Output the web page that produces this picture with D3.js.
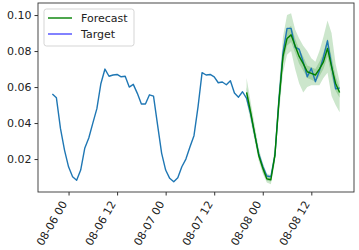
<!DOCTYPE html>
<html>
<head>
<meta charset="utf-8">
<script src="https://cdn.jsdelivr.net/npm/d3@7"></script>
<style>
  body { margin: 0; background: #fff; }
  svg { display: block; font-family: "DejaVu Sans", sans-serif; }
</style>
</head>
<body>
<script>
// hourly target series, first point 08-05 20:00
var targetStart = "2020-08-05T20:00:00Z";
var target = [
    0.0561, 0.054, 0.037, 0.025, 0.0157, 0.0102, 0.0082, 0.0139, 0.026, 0.0317,
    0.040, 0.048, 0.062, 0.070, 0.066, 0.0667, 0.067, 0.0657, 0.066, 0.060,
    0.0615, 0.0565, 0.0506, 0.0506, 0.0557, 0.055, 0.039, 0.0233, 0.0139, 0.0093,
    0.0074, 0.0096, 0.0157, 0.020, 0.0267, 0.033, 0.049, 0.068, 0.0667, 0.067,
    0.0657, 0.0624, 0.0628, 0.0613, 0.0635, 0.0567, 0.0544, 0.0574, 0.0537, 0.045,
    0.0337, 0.023, 0.016, 0.0106, 0.0102, 0.022, 0.053, 0.079, 0.0926, 0.0926,
    0.082, 0.081, 0.074, 0.0657, 0.0704, 0.063, 0.069, 0.0767, 0.0857, 0.072,
    0.059, 0.0595
];

// forecast, first point 08-07 20:00
var forecastStart = "2020-08-07T20:00:00Z";
var median = [0.057, 0.046, 0.034, 0.022, 0.015, 0.009, 0.0085, 0.022, 0.052, 0.077,
    0.087, 0.089, 0.083, 0.077, 0.073, 0.0685, 0.0676, 0.0667, 0.070, 0.074,
    0.0815, 0.0713, 0.062, 0.057];
var lower90 = [0.052, 0.041, 0.030, 0.019, 0.012, 0.007, 0.006, 0.018, 0.045, 0.068,
    0.078, 0.080, 0.070, 0.062, 0.057, 0.060, 0.061, 0.061, 0.061, 0.065,
    0.068, 0.055, 0.050, 0.046];
var upper90 = [0.065, 0.052, 0.039, 0.026, 0.018, 0.012, 0.011, 0.027, 0.060, 0.088,
    0.100, 0.101, 0.092, 0.087, 0.083, 0.080, 0.076, 0.074, 0.080, 0.088,
    0.097, 0.090, 0.073, 0.063];
var lower50 = [0.055, 0.044, 0.032, 0.021, 0.013, 0.008, 0.0075, 0.020, 0.049, 0.073,
    0.083, 0.085, 0.079, 0.073, 0.069, 0.065, 0.064, 0.063, 0.066, 0.070,
    0.077, 0.066, 0.058, 0.054];
var upper50 = [0.060, 0.049, 0.036, 0.024, 0.016, 0.010, 0.0095, 0.024, 0.056, 0.081,
    0.092, 0.094, 0.087, 0.081, 0.077, 0.072, 0.071, 0.070, 0.074, 0.079,
    0.087, 0.077, 0.066, 0.060];

var tickTimes = ["2020-08-06T00:00:00Z", "2020-08-06T12:00:00Z", "2020-08-07T00:00:00Z",
    "2020-08-07T12:00:00Z", "2020-08-08T00:00:00Z", "2020-08-08T12:00:00Z"];
var yTicks = [0.02, 0.04, 0.06, 0.08, 0.10];
var legendItems = [
    { name: "Forecast", color: "green" },
    { name: "Target", color: "#4d4dff" }
];

var W = 359, H = 250;
var margin = { top: 3, right: 5, bottom: 58, left: 38 };
var width = W - margin.left - margin.right,
    height = H - margin.top - margin.bottom;

var HOUR = 3600 * 1000;
function series(start, vals) {
    var t0 = new Date(start).getTime();
    return vals.map(function (v, i) { return { t: new Date(t0 + i * HOUR), v: v }; });
}
var targetData = series(targetStart, target);
var t0 = new Date(forecastStart).getTime();
var fcData = median.map(function (v, i) {
    return { t: new Date(t0 + i * HOUR), m: v, lo90: lower90[i], hi90: upper90[i], lo50: lower50[i], hi50: upper50[i] };
});

// 5% padding like matplotlib
var first = targetData[0].t.getTime(), last = targetData[targetData.length - 1].t.getTime();
var pad = (last - first) * 0.05;
var xScale = d3.scaleUtc()
    .domain([new Date(first - pad), new Date(last + pad)])
    .range([0, width]);
var yScale = d3.scaleLinear()
    .domain([0.0017, 0.1067])
    .range([height, 0]);

var svg = d3.select("body").append("svg")
    .attr("width", W)
    .attr("height", H)
    .append("g")
    .attr("transform", "translate(" + margin.left + "," + margin.top + ")");

// forecast bands
var area90 = d3.area()
    .x(function (d) { return xScale(d.t); })
    .y0(function (d) { return yScale(d.lo90); })
    .y1(function (d) { return yScale(d.hi90); });
var area50 = d3.area()
    .x(function (d) { return xScale(d.t); })
    .y0(function (d) { return yScale(d.lo50); })
    .y1(function (d) { return yScale(d.hi50); });
svg.append("path").datum(fcData).attr("d", area90)
    .attr("fill", "green").attr("fill-opacity", 0.2);
svg.append("path").datum(fcData).attr("d", area50)
    .attr("fill", "green").attr("fill-opacity", 0.2);

// target line
var line = d3.line()
    .x(function (d) { return xScale(d.t); })
    .y(function (d) { return yScale(d.v); });
svg.append("path").datum(targetData)
    .attr("d", line)
    .attr("fill", "none")
    .attr("stroke", "#1f77b4")
    .attr("stroke-width", 1.4)
    .attr("stroke-linejoin", "round");

// forecast median
var mline = d3.line()
    .x(function (d) { return xScale(d.t); })
    .y(function (d) { return yScale(d.m); });
svg.append("path").datum(fcData)
    .attr("d", mline)
    .attr("fill", "none")
    .attr("stroke", "green")
    .attr("stroke-width", 1.4)
    .attr("stroke-linejoin", "round");

// frame
svg.append("rect")
    .attr("x", 0).attr("y", 0)
    .attr("width", width).attr("height", height)
    .attr("fill", "none")
    .attr("stroke", "#333")
    .attr("stroke-width", 0.9);

// y axis
var yAxis = svg.append("g")
    .call(d3.axisLeft(yScale).tickValues(yTicks).tickFormat(d3.format(".2f")).tickSize(3.5).tickPadding(3));
yAxis.select(".domain").remove();
yAxis.selectAll("text").attr("font-size", 11).attr("font-family", "DejaVu Sans").attr("fill", "#222");
yAxis.selectAll("line").attr("stroke", "#333");

// x axis
var xTicks = tickTimes.map(function (s) { return new Date(s); });
var xAxis = svg.append("g")
    .attr("transform", "translate(0," + height + ")")
    .call(d3.axisBottom(xScale).tickValues(xTicks).tickSize(3.5).tickFormat(d3.utcFormat("%m-%d %H")));
xAxis.select(".domain").remove();
xAxis.selectAll("line").attr("stroke", "#333");
xAxis.selectAll("text")
    .attr("font-size", 11)
    .attr("font-family", "DejaVu Sans")
    .attr("fill", "#222")
    .attr("text-anchor", "end")
    .attr("dominant-baseline", "central")
    .attr("y", 0).attr("dy", null)
    .attr("transform", "translate(-4.5,10) rotate(-60)");

// legend
var lg = svg.append("g").attr("transform", "translate(6,6)");
lg.append("rect")
    .attr("width", 90).attr("height", 37)
    .attr("rx", 2.5)
    .attr("fill", "white").attr("fill-opacity", 0.8)
    .attr("stroke", "#d0d0d0").attr("stroke-width", 0.9);
legendItems.forEach(function (d, i) {
    var y = 9 + i * 16;
    lg.append("line")
        .attr("x1", 4).attr("x2", 28)
        .attr("y1", y).attr("y2", y)
        .attr("stroke", d.color).attr("stroke-width", 1.4);
    lg.append("text")
        .attr("x", 37).attr("y", y)
        .attr("dominant-baseline", "central")
        .attr("font-size", 11)
        .attr("fill", "#222")
        .text(d.name);
});
</script>
</body>
</html>
